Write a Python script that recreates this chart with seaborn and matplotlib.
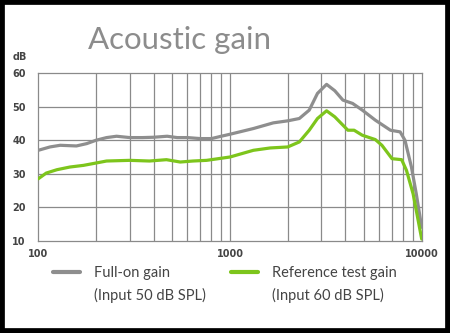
import matplotlib
matplotlib.use("Agg")
import matplotlib.pyplot as plt
import seaborn as sns
import pandas as pd
from matplotlib.lines import Line2D
from matplotlib.patches import Rectangle

# Data
full_freq = [100, 115, 130, 158, 179, 200, 227, 256, 300, 350, 400, 470, 530, 600, 700, 800, 900, 1000,
             1324, 1683, 2000, 2300, 2590, 2860, 3190, 3520, 3880, 4360, 4900, 5730, 6870, 7720, 8180,
             8840, 9370, 10000]
full_gain = [37.0, 38.0, 38.5, 38.3, 39.0, 40.0, 40.8, 41.2, 40.8, 40.8, 40.9, 41.2, 40.8, 40.8, 40.5, 40.5, 41.2, 41.8,
             43.5, 45.2, 45.8, 46.5, 49.0, 54.0, 56.7, 54.8, 52.0, 51.0, 49.0, 46.0, 43.0, 42.5, 40.0,
             32.0, 24.0, 14.0]

ref_freq = [100, 110, 125, 146, 172, 200, 227, 300, 380, 466, 550, 640, 755, 1000,
            1324, 1620, 2000, 2300, 2590, 2860, 3190, 3520, 4120, 4440, 4900, 5730, 6200, 7000, 7860,
            8330, 9020, 10000]
ref_gain = [28.5, 30.2, 31.2, 32.0, 32.5, 33.2, 33.8, 34.0, 33.8, 34.2, 33.5, 33.8, 34.0, 35.0,
            37.0, 37.7, 38.0, 39.5, 43.0, 46.5, 48.8, 47.0, 43.0, 43.0, 41.5, 40.2, 38.5, 34.5, 34.2,
            31.0, 24.0, 10.5]

series_names = ["Full-on gain", "Reference test gain"]
series_notes = ["(Input 50 dB SPL)", "(Input 60 dB SPL)"]
y_ticks = [10, 20, 30, 40, 50, 60]
x_tick_labels = ["100", "1000", "10000"]

GRAY = "#8e8e8e"
GREEN = "#7dc51c"
TXT = "#444444"

sns.set_theme(style="white")
plt.rcParams["font.family"] = ["DejaVu Sans"]

fig = plt.figure(figsize=(4.5, 3.33), dpi=100)
fig.patch.set_facecolor("white")
ax = fig.add_axes([38.3 / 450, 1 - 240.7 / 333, (421.7 - 38.3) / 450, (240.7 - 73.3) / 333])

df_full = pd.DataFrame({"freq": full_freq, "gain": full_gain})
df_ref = pd.DataFrame({"freq": ref_freq, "gain": ref_gain})

ax.set_xscale("log")
ax.set_xlim(100, 10000)
ax.set_ylim(10, 60)

# grid
minor = [m * d for d in (100, 1000) for m in range(2, 10)]
for xv in minor + [1000]:
    ax.axvline(xv, color="#8a8a8a", lw=0.9, zorder=1)
for yv in y_ticks[1:-1]:
    ax.axhline(yv, color="#8a8a8a", lw=0.9, zorder=1)

sns.lineplot(data=df_full, x="freq", y="gain", ax=ax, color=GRAY, lw=2.3, zorder=3)
sns.lineplot(data=df_ref, x="freq", y="gain", ax=ax, color=GREEN, lw=2.3, zorder=4)

for s in ax.spines.values():
    s.set_color("#8a8a8a")
    s.set_linewidth(0.9)

ax.set_xlabel("")
ax.set_ylabel("")
ax.set_yticks(y_ticks)
ax.set_yticklabels([str(v) for v in y_ticks], fontsize=7, color=TXT, fontweight="bold")
ax.set_xticks([100, 1000, 10000])
ax.set_xticklabels(x_tick_labels, fontsize=7, color=TXT, fontweight="bold")
ax.set_xticks([], minor=True)
ax.tick_params(axis="y", length=6, width=0.9, color="#8a8a8a", pad=3)
ax.tick_params(axis="x", length=0, pad=6)

fig.text(20 / 450, 1 - 57 / 333, "dB", fontsize=7, color=TXT, fontweight="bold",
         ha="center", va="center")
fig.text(180 / 450, 1 - 40 / 333, "Acoustic gain", fontsize=22.5, color="#8c8c8c",
         family="Lato", ha="center", va="center")

handles = [Line2D([], [], color=GRAY, lw=3), Line2D([], [], color=GREEN, lw=3)]
leg = fig.legend(handles, series_names, loc="center left", bbox_to_anchor=(46 / 450, 1 - 273 / 333),
                 ncol=2, frameon=False, prop={"family": "Lato", "size": 10.5}, handlelength=1.8,
                 handletextpad=1.0, columnspacing=4.2, labelcolor=TXT, borderpad=0)

fig.canvas.draw()
renderer = fig.canvas.get_renderer()
for t, note in zip(leg.get_texts(), series_notes):
    bb = t.get_window_extent(renderer)
    x0 = bb.x0 / fig.bbox.width
    fig.text(x0, 1 - 295 / 333, note, family="Lato", fontsize=10.5, color=TXT,
             ha="left", va="center")

# black frame
fig.patches.append(Rectangle((0, 0), 1, 1, transform=fig.transFigure, fill=False,
                             edgecolor="black", lw=7, zorder=10))

fig.savefig("out.png", dpi=100)
